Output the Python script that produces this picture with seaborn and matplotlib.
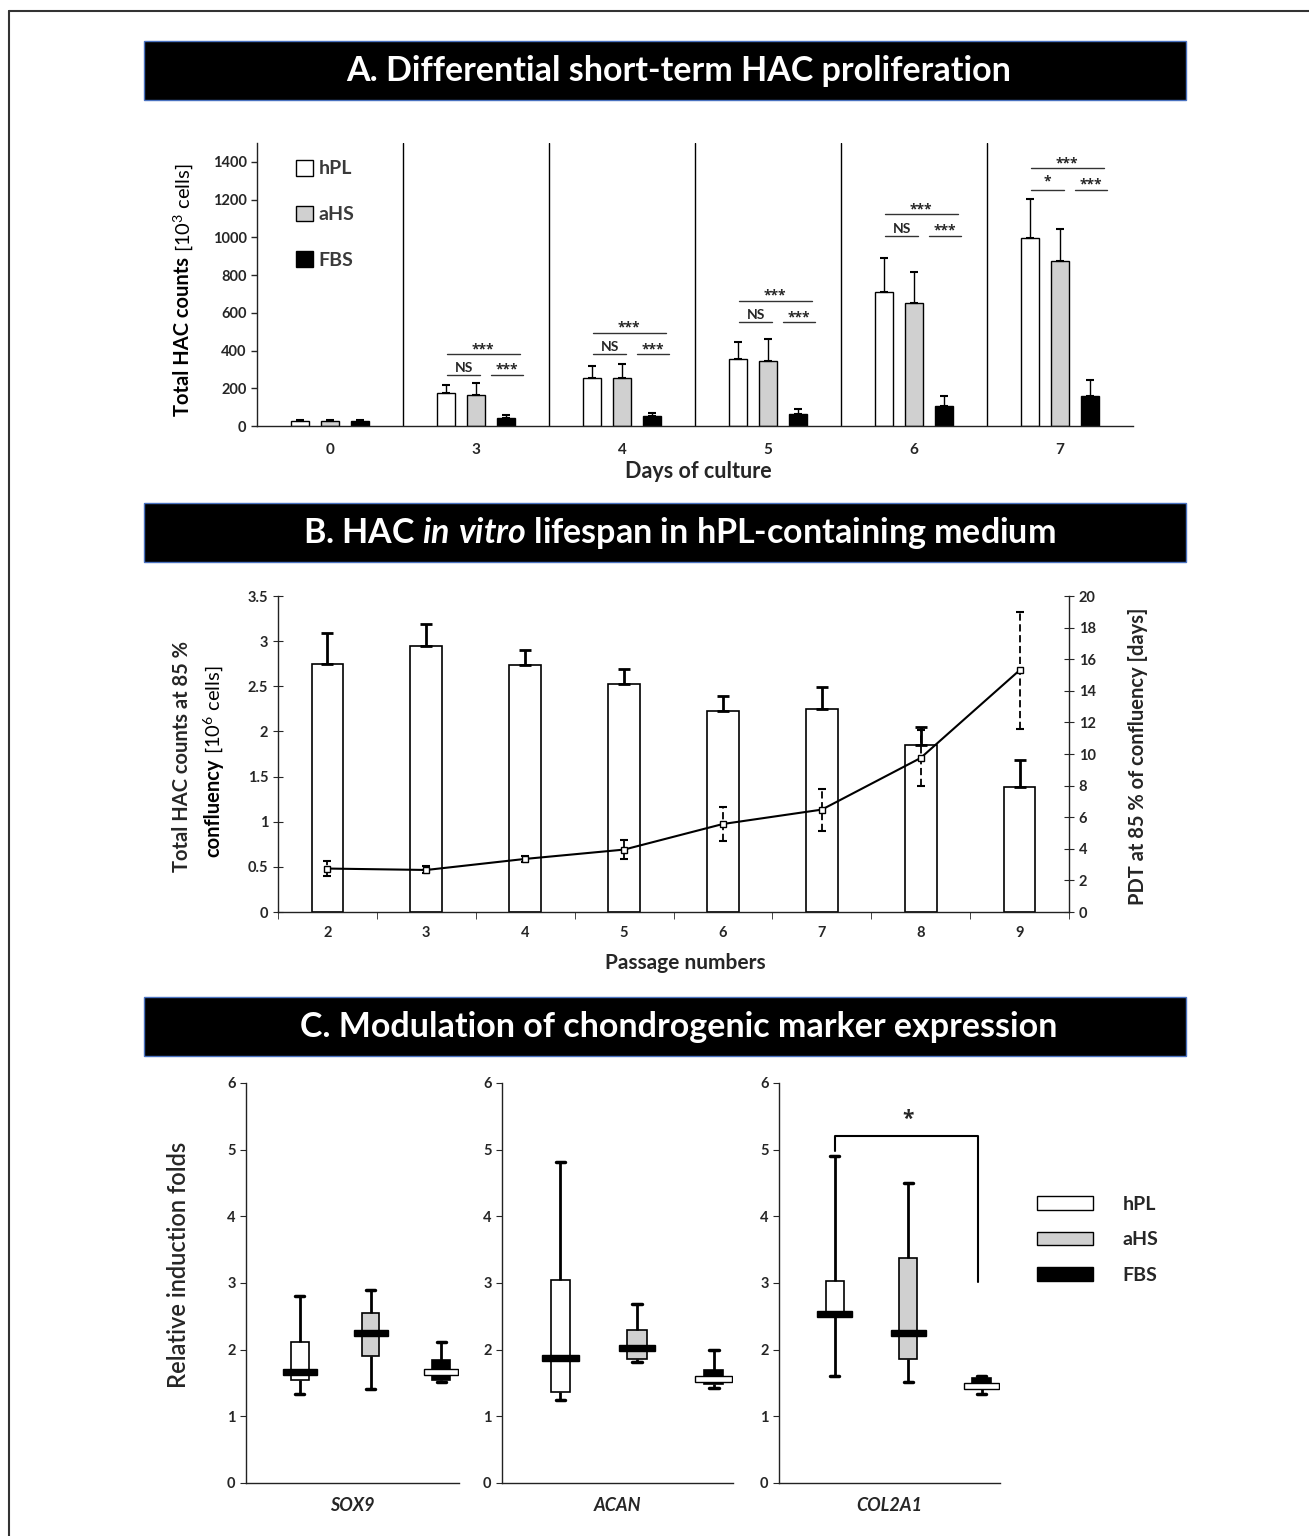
import numpy as np
import pandas as pd
import matplotlib
matplotlib.use("Agg")
import matplotlib.pyplot as plt
import seaborn as sns
from matplotlib.patches import Rectangle, Patch
from matplotlib.lines import Line2D

# ---------------- data ----------------
# A. short-term proliferation (10^3 cells), mean and upper SD
days = ["0", "3", "4", "5", "6", "7"]
sera = ["hPL", "aHS", "FBS"]
hpl_counts = [28, 175, 257, 357, 710, 997]
hpl_sd = [4, 42, 61, 88, 179, 204]
ahs_counts = [28, 165, 253, 347, 652, 872]
ahs_sd = [3, 65, 73, 114, 163, 172]
fbs_counts = [28, 45, 53, 63, 107, 160]
fbs_sd = [6, 15, 17, 29, 50, 83]

# significance bars (days 3-7)
sig_days = ["3", "4", "5", "6", "7"]
sig_top = [380, 493, 664, 1123, 1366]
sig_low = [270, 380, 549, 1007, 1252]
sig_left = ["NS", "NS", "NS", "NS", "*"]

# B. lifespan in hPL medium
passages = ["2", "3", "4", "5", "6", "7", "8", "9"]
cell_counts = [2.75, 2.95, 2.74, 2.53, 2.23, 2.25, 1.85, 1.39]
cell_sd = [0.34, 0.24, 0.16, 0.16, 0.16, 0.24, 0.20, 0.29]
pdt_days = [2.75, 2.66, 3.36, 3.95, 5.57, 6.48, 9.75, 15.3]
pdt_sd = [0.45, 0.22, 0.20, 0.60, 1.10, 1.33, 1.80, 3.70]

# C. chondrogenic markers: [min, q1, median, q3, max]
genes = ["SOX9", "ACAN", "COL2A1"]
hpl_box = [[1.33, 1.54, 1.67, 2.12, 2.81],
           [1.24, 1.37, 1.88, 3.05, 4.81],
           [1.60, 2.50, 2.53, 3.03, 4.91]]
ahs_box = [[1.41, 1.90, 2.25, 2.55, 2.89],
           [1.81, 1.86, 2.02, 2.29, 2.68],
           [1.52, 1.86, 2.25, 3.37, 4.50]]
fbs_box = [[1.51, 1.55, 1.67, 1.84, 2.12],
           [1.42, 1.48, 1.565, 1.69, 2.00],
           [1.34, 1.42, 1.46, 1.58, 1.60]]
col2a1_bracket = (4.98, 5.21, 3.02)

colors = {"hPL": "white", "aHS": "#d0d0d0", "FBS": "black"}
star_font = ["Open Sans", "DejaVu Sans"]

# ---------------- figure ----------------
sns.set_style("ticks")
plt.rcParams["font.family"] = ["Lato", "DejaVu Sans"]
plt.rcParams["font.weight"] = "bold"
plt.rcParams["axes.labelweight"] = "bold"
plt.rcParams["mathtext.fontset"] = "custom"
plt.rcParams["mathtext.default"] = "regular"
plt.rcParams["mathtext.it"] = "Lato:italic:bold"
plt.rcParams["axes.edgecolor"] = "#222222"
plt.rcParams["axes.linewidth"] = 1.0

W, H = 1309, 1536
fig = plt.figure(figsize=(W / 100, H / 100), dpi=100)


def fx(px):
    return px / W


def fy(py):
    return 1 - py / H


def box(l, t, r, b):
    return [fx(l), fy(b), (r - l) / W, (b - t) / H]


def stack_up(x, y, parts, size):
    # rotated label pieces written bottom to top
    r = fig.canvas.get_renderer()
    for s, w in parts:
        t = fig.text(fx(x), fy(y), s, rotation=90, ha="center", va="bottom",
                     fontsize=size, fontweight=w, color="black")
        y -= t.get_window_extent(renderer=r).height


# frame (top + left only)
fig.add_artist(Line2D([fx(9), 1], [fy(11), fy(11)], transform=fig.transFigure,
                      color="#333333", lw=1.5))
fig.add_artist(Line2D([fx(9), fx(9)], [fy(11), 0], transform=fig.transFigure,
                      color="#333333", lw=1.5))

titles = ["A. Differential short-term HAC proliferation",
          r"B. HAC $\mathit{in\ vitro}$ lifespan in hPL-containing medium",
          "C. Modulation of chondrogenic marker expression"]
for top, txt in zip([41, 503, 997], titles):
    fig.add_artist(Rectangle((fx(144), fy(top + 59)), (1186 - 144) / W, 59 / H,
                             transform=fig.transFigure, fc="black",
                             ec="#4a72c0", lw=1))
    fig.text(fx(679), fy(top + 30), txt, color="white", ha="center",
             va="center", fontsize=24.5, fontweight="bold")

# ---------------- panel A ----------------
axA = fig.add_axes(box(257, 143, 1133, 426))
dfA = pd.DataFrame({"day": days * 3,
                    "serum": np.repeat(sera, len(days)),
                    "count": hpl_counts + ahs_counts + fbs_counts})
sns.barplot(data=dfA, x="day", y="count", hue="serum", order=days,
            hue_order=sera, palette=colors, edgecolor="black", linewidth=1,
            width=0.615, gap=0.37, saturation=1, errorbar=None, legend=False,
            ax=axA)
for cont, sd in zip(axA.containers, [hpl_sd, ahs_sd, fbs_sd]):
    xs = [p.get_x() + p.get_width() / 2 for p in cont]
    ys = [p.get_height() for p in cont]
    axA.errorbar(xs, ys, yerr=[np.zeros(len(sd)), sd], fmt="none",
                 ecolor="black", elinewidth=1, capsize=3, capthick=1.5)
axA.set_xlim(-0.5, len(days) - 0.5)
axA.set_ylim(0, 1500)
axA.set_yticks(range(0, 1401, 200))
for b in np.arange(0.5, len(days) - 1, 1):
    axA.axvline(b, color="black", lw=1)
for i, d in enumerate(sig_days):
    g = days.index(d)
    axA.plot([g - 0.2, g + 0.3], [sig_top[i]] * 2, color="#333333", lw=1)
    axA.text(g + 0.05, sig_top[i] - 10, "***", ha="center", va="bottom",
             fontsize=10, family=star_font)
    axA.plot([g - 0.2, g + 0.03], [sig_low[i]] * 2, color="#333333", lw=1)
    axA.text(g - 0.085, sig_low[i] + 5, sig_left[i], ha="center",
             va="bottom", fontsize=10,
             family=star_font if sig_left[i] == "*" else None)
    axA.plot([g + 0.1, g + 0.32], [sig_low[i]] * 2, color="#333333", lw=1)
    axA.text(g + 0.21, sig_low[i] - 10, "***", ha="center", va="bottom",
             fontsize=10, family=star_font)
axA.set_xlabel("")
axA.set_ylabel("")
axA.tick_params(axis="y", direction="out", length=4, width=1, labelsize=10.5)
axA.tick_params(axis="x", length=0, pad=12, labelsize=11)
sns.despine(ax=axA)
handles = [Patch(fc=colors[s], ec="black", lw=1) for s in sera]
axA.legend(handles, sera, loc="upper left", bbox_to_anchor=(fx(296), fy(160)),
           bbox_transform=fig.transFigure, frameon=False, fontsize=14,
           labelcolor="#3a3a3a", handlelength=0.85, handleheight=0.85,
           handletextpad=0.3, labelspacing=1.45, borderpad=0, borderaxespad=0)
stack_up(183, 416, [("Total HAC counts", "bold"), (" [10$^3$ cells]", "normal")], 14.5)
fig.text(fx(698), fy(472), "Days of culture", ha="center", va="center",
         fontsize=15.5)

# ---------------- panel B ----------------
axB = fig.add_axes(box(278, 596, 1069, 912))
sns.barplot(x=passages, y=cell_counts, order=passages, color="white",
            edgecolor="black", linewidth=1.2, width=0.32, saturation=1,
            errorbar=None, ax=axB)
bx = [p.get_x() + p.get_width() / 2 for p in axB.patches]
axB.errorbar(bx, cell_counts, yerr=[np.zeros(len(cell_sd)), cell_sd],
             fmt="none", ecolor="black", elinewidth=2, capsize=4, capthick=2)
axB.set_ylim(0, 3.5)
yt = np.arange(0, 3.51, 0.5)
axB.set_yticks(yt)
axB.set_yticklabels([f"{v:g}" for v in yt])
axB2 = axB.twinx()
eb = axB2.errorbar(bx, pdt_days, yerr=pdt_sd, fmt="none", ecolor="black",
                   elinewidth=1.3, capsize=3, capthick=1.5)
eb[2][0].set_linestyle((0, (4, 2)))
sns.lineplot(x=bx, y=pdt_days, color="black", lw=1.5, marker="s",
             markersize=4.5, markerfacecolor="white", markeredgecolor="black",
             markeredgewidth=1, ax=axB2)
axB2.set_ylim(0, 20)
axB2.set_yticks(range(0, 21, 2))
axB.set_xlim(-0.5, len(passages) - 0.5)
axB.set_xticks(np.arange(-0.5, len(passages), 1), minor=True)
axB.tick_params(axis="x", which="major", length=0, pad=10, labelsize=10.5)
axB.tick_params(axis="x", which="minor", length=5, direction="out")
axB.tick_params(axis="y", direction="inout", length=7, labelsize=10.5)
axB2.tick_params(axis="y", direction="inout", length=7, labelsize=10.5)
for s in ["top", "right"]:
    axB.spines[s].set_visible(False)
for s in ["top", "left", "bottom"]:
    axB2.spines[s].set_visible(False)
axB.set_ylabel("")
axB2.set_ylabel("")
fig.text(fx(182), fy(756), "Total HAC counts at 85 %", rotation=90,
         ha="center", va="center", fontsize=14.5)
stack_up(213, 857, [("confluency", "bold"), (" [10$^6$ cells]", "normal")], 14.5)
fig.text(fx(1138), fy(756), "PDT at 85 % of confluency [days]", rotation=90,
         ha="center", va="center", fontsize=14.5)
fig.text(fx(685), fy(963), "Passage numbers", ha="center", va="center",
         fontsize=15)

# ---------------- panel C ----------------
c_edges = [(246, 459), (502, 733), (779, 1000)]
c_axes = []
for k, gene in enumerate(genes):
    l, r = c_edges[k]
    ax = fig.add_axes(box(l, 1083, r, 1483))
    stats = [hpl_box[k], ahs_box[k], fbs_box[k]]
    dfC = pd.DataFrame({"serum": np.repeat(sera, 5),
                        "value": np.concatenate(stats)})
    sns.boxplot(data=dfC, x="serum", y="value", hue="serum", order=sera,
                hue_order=sera, palette=colors, width=0.25, whis=(0, 100),
                linecolor="black", linewidth=1.2, saturation=1, legend=False,
                showfliers=False, medianprops={"linewidth": 0},
                whiskerprops={"linewidth": 2}, capprops={"linewidth": 2.5},
                ax=ax)
    meds = [s[2] for s in stats]
    ax.bar(range(3), height=0.09, bottom=[m - 0.045 for m in meds],
           width=0.48, color=["black", "black", "white"], edgecolor="black",
           linewidth=1, zorder=5)
    ax.set_ylim(0, 6)
    ax.set_xlim(-0.76, 2.25)
    ax.set_yticks(range(0, 7))
    ax.set_xticks([])
    ax.set_ylabel("")
    ax.set_xlabel(gene, fontstyle="italic", fontweight="bold", fontsize=13,
                  labelpad=10)
    ax.tick_params(axis="y", direction="out", length=4, labelsize=10.5)
    sns.despine(ax=ax)
    c_axes.append(ax)

ax3 = c_axes[2]
b0, b1, b2 = col2a1_bracket
ax3.plot([0, 0, 1.95, 1.95], [b0, b1, b1, b2], color="black", lw=1.5)
ax3.text(1, 5.45, "*", ha="center", va="center", fontsize=15,
         fontweight="bold", family=star_font)
handles = [Patch(fc=colors[s], ec="black", lw=1) for s in sera]
ax3.legend(handles, sera, loc="upper left", bbox_to_anchor=(fx(1037), fy(1196)),
           bbox_transform=fig.transFigure, frameon=False, fontsize=14,
           handlelength=2.9, handleheight=0.7, handletextpad=1.5,
           labelspacing=0.95, borderpad=0, borderaxespad=0)
fig.text(fx(178), fy(1265), "Relative induction folds", rotation=90,
         ha="center", va="center", fontsize=17, fontweight="semibold")

fig.savefig("out.png", dpi=100)
